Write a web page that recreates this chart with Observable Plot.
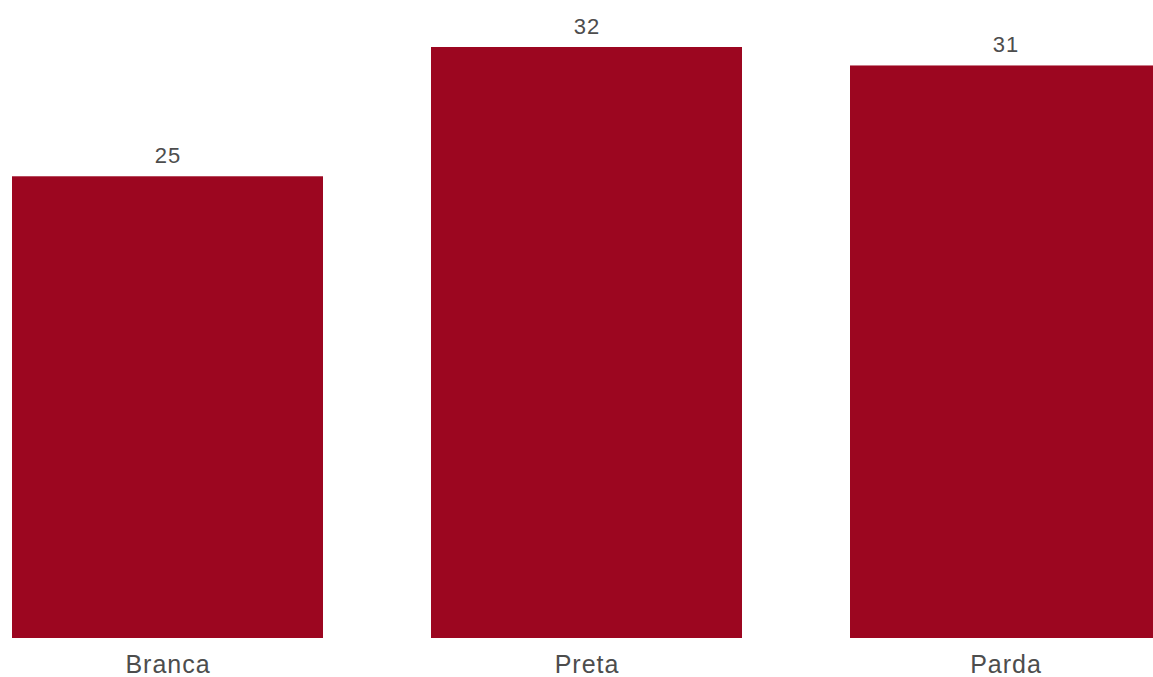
<!DOCTYPE html>
<html>
<head>
<meta charset="utf-8">
<script src="https://cdn.jsdelivr.net/npm/d3@7"></script>
<script src="https://cdn.jsdelivr.net/npm/@observablehq/plot@0.6"></script>
<style>
  html, body { margin: 0; padding: 0; background: #fff; overflow: hidden; }
  #chart { width: 1153px; height: 677px; overflow: hidden; }
  #chart svg text { letter-spacing: 1px; }
</style>
</head>
<body>
<div id="chart"></div>
<script>
const categories = ["Branca", "Preta", "Parda"];
const values = [25, 32, 31];

const data = categories.map((c, i) => ({ category: c, value: values[i] }));

const chart = Plot.plot({
  width: 1174,
  height: 677,
  marginLeft: 0,
  marginRight: 0,
  marginTop: 47,
  marginBottom: 39,
  style: { fontFamily: "'Liberation Sans', Arial, sans-serif", background: "#fff", maxWidth: "none", overflow: "hidden" },
  x: { domain: categories, paddingInner: 0.2571, paddingOuter: 0.0262, label: null },
  y: { domain: [0, 32], axis: null },
  marks: [
    Plot.barY(data, { x: "category", y: "value", fill: "#9C0620" }),
    Plot.text(data, {
      x: "category", y: "value", text: d => String(d.value),
      dy: -21, fontSize: 22, fill: "#4d4d4d"
    }),
    Plot.axisX({ tickSize: 0, tickPadding: 17, fontSize: 25, fill: "#4d4d4d", label: null })
  ]
});
document.getElementById("chart").appendChild(chart);
</script>
</body>
</html>
